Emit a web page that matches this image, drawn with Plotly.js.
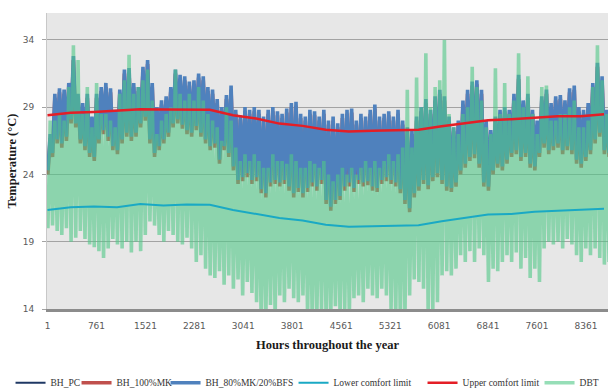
<!DOCTYPE html>
<html>
<head>
<meta charset="utf-8">
<script src="https://cdn.plot.ly/plotly-3.0.1.min.js"></script>
<style>html,body{margin:0;padding:0;background:#fff;}#chart{width:608px;height:389px;}</style>
</head>
<body>
<div id="chart"></div>
<script>
// Hour tick labels
const hourTicks = [1, 761, 1521, 2281, 3041, 3801, 4561, 5321, 6081, 6841, 7601, 8361];
const tempTicks = [14, 19, 24, 29, 34];

// Series names
const seriesNames = ["BH_PC", "BH_100%MK", "BH_80%MK/20%BFS", "Lower comfort limit", "Upper comfort limit", "DBT"];

// Hourly series read as 3-day (72 h) extremes, bin k covers hours 1+72k .. 72+72k
const binHours = 72;

const bh80Max = [27.0,30.0,30.4,30.3,30.8,32.8,30.0,29.3,30.0,28.3,
30.0,30.5,30.8,30.4,28.8,30.3,31.8,31.9,30.8,30.5,
32.0,32.5,30.8,29.0,29.5,29.8,30.5,31.8,31.4,31.3,
30.9,31.0,31.5,31.3,30.5,30.3,29.6,29.0,29.9,30.6,
28.8,28.4,29.0,28.8,29.0,28.8,28.3,28.8,29.0,28.7,
28.5,28.9,29.3,29.4,28.5,28.3,28.8,28.7,28.3,28.8,
28.0,28.3,27.8,28.5,28.8,28.9,28.0,28.5,28.3,28.8,
29.2,28.3,28.5,28.7,28.3,28.8,28.0,27.5,27.3,28.3,
29.0,29.6,28.8,29.8,30.3,29.8,28.3,27.5,28.0,29.5,
30.3,30.9,31.0,30.3,28.0,27.3,28.3,28.8,29.0,28.8,
30.0,31.4,29.5,30.0,28.8,28.0,29.8,30.3,29.3,29.8,
29.9,29.5,30.4,30.6,29.0,28.8,29.3,30.8,32.3,31.3,
28.8,28.3];

const bh80Min = [24.3,25.6,26.6,26.3,26.8,28.1,27.8,26.6,26.1,25.6,
25.3,26.6,27.3,26.8,26.1,25.8,26.6,27.1,26.8,27.1,
27.8,28.3,26.6,25.6,26.1,26.6,27.1,27.8,28.1,27.7,
27.3,27.1,27.6,27.1,26.6,26.1,26.3,25.1,26.1,25.6,
24.6,23.6,23.8,24.1,23.6,23.8,22.9,22.6,23.4,23.6,
23.4,23.6,23.1,22.6,23.0,22.6,23.0,23.4,23.1,23.6,
22.1,21.6,22.1,22.4,23.1,23.4,23.0,23.6,23.4,23.5,
23.1,23.0,23.6,23.8,23.6,23.4,22.9,22.1,21.5,22.6,
23.1,23.6,23.2,23.8,24.1,23.6,23.1,23.0,23.4,24.3,
24.8,25.3,25.5,24.8,23.4,23.1,24.3,24.8,24.6,25.1,
25.6,25.8,25.3,25.6,24.8,24.6,25.6,26.3,25.8,26.1,
26.3,25.8,26.1,25.8,25.1,24.8,25.3,25.8,26.6,27.1,
25.8,25.6];

const bh100Max = [26.7,29.7,30.1,30.0,30.5,32.5,29.7,29.0,29.7,28.0,
29.7,30.2,30.5,30.1,28.5,30.0,31.5,31.6,30.5,30.2,
31.7,32.2,30.5,28.7,29.2,29.5,30.2,31.5,31.1,31.0,
30.6,30.7,31.2,31.0,30.2,30.0,29.3,28.7,29.6,30.3,
28.5,28.1,28.7,28.5,28.7,28.5,28.0,28.5,28.7,28.4,
28.2,28.6,29.0,29.1,28.2,28.0,28.5,28.4,28.0,28.5,
27.7,28.0,27.5,28.2,28.5,28.6,27.7,28.2,28.0,28.5,
28.9,28.0,28.2,28.4,28.0,28.5,27.7,27.2,27.0,28.0,
28.7,29.3,28.5,29.5,30.0,29.5,28.0,27.2,27.7,29.2,
30.0,30.6,30.7,30.0,27.7,27.0,28.0,28.5,28.7,28.5,
29.7,31.1,29.2,29.7,28.5,27.7,29.5,30.0,29.0,29.5,
29.6,29.2,30.1,30.3,28.7,28.5,29.0,30.5,32.0,31.0,
28.5,28.0];

const bh100Min = [24.0,25.3,26.3,26.0,26.5,27.8,27.5,26.3,25.8,25.3,
25.0,26.3,27.0,26.5,25.8,25.5,26.3,26.8,26.5,26.8,
27.5,28.0,26.3,25.3,25.8,26.3,26.8,27.5,27.8,27.4,
27.0,26.8,27.3,26.8,26.3,25.8,26.0,24.8,25.8,25.3,
24.3,23.3,23.5,23.8,23.3,23.5,22.6,22.3,23.1,23.3,
23.1,23.3,22.8,22.3,22.7,22.3,22.7,23.1,22.8,23.3,
21.8,21.3,21.8,22.1,22.8,23.1,22.7,23.3,23.1,23.2,
22.8,22.7,23.3,23.5,23.3,23.1,22.6,21.8,21.2,22.3,
22.8,23.3,22.9,23.5,23.8,23.3,22.8,22.7,23.1,24.0,
24.5,25.0,25.2,24.5,23.1,22.8,24.0,24.5,24.3,24.8,
25.3,25.5,25.0,25.3,24.5,24.3,25.3,26.0,25.5,25.8,
26.0,25.5,25.8,25.5,24.8,24.5,25.0,25.5,26.3,26.8,
25.5,25.3];

const bhPcMax = [26.4,29.4,29.8,29.7,30.2,32.2,29.4,28.7,29.4,27.7,
29.4,29.9,30.2,29.8,28.2,29.7,31.2,31.3,30.2,29.9,
31.4,31.9,30.2,28.4,28.9,29.2,29.9,31.2,30.8,30.7,
30.3,30.4,30.9,30.7,29.9,29.7,29.0,28.4,29.3,30.0,
28.2,27.8,28.4,28.2,28.4,28.2,27.7,28.2,28.4,28.1,
27.9,28.3,28.7,28.8,27.9,27.7,28.2,28.1,27.7,28.2,
27.4,27.7,27.2,27.9,28.2,28.3,27.4,27.9,27.7,28.2,
28.6,27.7,27.9,28.1,27.7,28.2,27.4,26.9,26.7,27.7,
28.4,29.0,28.2,29.2,29.7,29.2,27.7,26.9,27.4,28.9,
29.7,30.3,30.4,29.7,27.4,26.7,27.7,28.2,28.4,28.2,
29.4,30.8,28.9,29.4,28.2,27.4,29.2,29.7,28.7,29.2,
29.3,28.9,29.8,30.0,28.4,28.2,28.7,30.2,31.7,30.7,
28.2,27.7];

const bhPcMin = [24.6,25.9,26.9,26.6,27.1,28.4,28.1,26.9,26.4,25.9,
25.6,26.9,27.6,27.1,26.4,26.1,26.9,27.4,27.1,27.4,
28.1,28.6,26.9,25.9,26.4,26.9,27.4,28.1,28.4,28.0,
27.6,27.4,27.9,27.4,26.9,26.4,26.6,25.4,26.4,25.9,
24.9,23.9,24.1,24.4,23.9,24.1,23.2,22.9,23.7,23.9,
23.7,23.9,23.4,22.9,23.3,22.9,23.3,23.7,23.4,23.9,
22.4,21.9,22.4,22.7,23.4,23.7,23.3,23.9,23.7,23.8,
23.4,23.3,23.9,24.1,23.9,23.7,23.2,22.4,21.8,22.9,
23.4,23.9,23.5,24.1,24.4,23.9,23.4,23.3,23.7,24.6,
25.1,25.6,25.8,25.1,23.7,23.4,24.6,25.1,24.9,25.4,
25.9,26.1,25.6,25.9,25.1,24.9,25.9,26.6,26.1,26.4,
26.6,26.1,26.4,26.1,25.4,25.1,25.6,26.1,26.9,27.4,
26.1,25.9];

const dbtMax = [28.0,28.0,28.5,28.0,30.5,33.6,32.5,28.5,30.5,27.5,
30.8,28.5,28.5,28.0,27.5,30.0,31.0,32.9,30.0,30.5,
31.0,31.8,29.5,27.0,28.0,28.5,29.0,31.8,30.0,29.5,
30.0,29.5,30.5,29.5,28.5,28.0,27.5,26.5,29.0,28.0,
26.0,25.0,25.5,25.0,25.5,25.0,24.5,24.5,25.5,25.0,
25.0,24.8,25.5,25.0,24.5,24.5,25.0,24.8,24.5,25.0,
24.0,23.5,24.0,24.5,24.0,24.5,24.0,24.5,25.0,24.5,
25.0,24.5,25.0,25.5,25.0,25.5,26.0,30.3,26.0,31.2,
29.0,33.0,29.0,30.5,31.0,34.0,28.5,27.5,27.0,28.5,
29.0,32.0,30.5,29.5,27.5,27.0,31.9,28.5,30.8,28.5,
29.5,33.0,29.0,31.3,28.5,27.0,30.5,30.6,28.0,28.0,
28.5,28.5,29.0,29.5,27.5,27.5,28.0,30.5,33.6,31.0,
28.5,28.0];

const dbtMin = [20.0,20.2,19.8,19.5,20.0,19.0,19.3,19.8,19.2,18.8,
18.6,18.3,17.8,18.5,19.2,18.8,18.5,19.0,18.2,19.0,
18.3,19.5,20.5,20.2,19.5,19.0,19.8,19.5,19.0,18.8,
19.3,18.5,17.5,18.0,17.0,16.5,16.3,16.8,15.8,16.5,
15.5,16.2,15.0,16.0,15.2,14.5,13.0,13.5,14.3,13.5,
15.0,14.5,15.5,14.8,14.5,15.0,13.5,13.0,13.5,14.0,
13.0,13.5,14.2,13.5,14.0,13.5,14.8,15.0,14.5,15.5,
15.0,14.8,15.5,15.0,14.0,13.5,13.0,13.5,15.0,16.2,
16.0,15.5,13.5,14.0,14.5,16.5,16.8,16.5,17.0,18.0,
17.5,18.3,17.5,18.5,18.0,16.0,17.0,16.8,17.5,18.0,
17.5,18.2,17.0,17.8,16.3,17.0,16.0,18.5,19.0,18.8,
19.0,18.5,19.2,18.8,18.0,17.5,18.5,18.0,18.5,17.8,
17.3,17.5];

// Comfort limits sampled every 360 h (hour 1 + 360*i)
const limitStep = 360;
const upperLimit = [28.40,28.58,28.65,28.73,28.85,28.83,28.83,28.80,28.40,28.16,
27.78,27.61,27.33,27.19,27.24,27.28,27.33,27.58,27.78,28.03,
28.11,28.23,28.33,28.33,28.48];
const lowerLimit = [21.36,21.56,21.61,21.56,21.81,21.69,21.76,21.74,21.36,21.07,
20.77,20.57,20.27,20.12,20.17,20.20,20.22,20.52,20.77,21.02,
21.07,21.22,21.31,21.36,21.46];

function zigzag(minArr, maxArr) {
  const x = [], y = [];
  for (let k = 0; k < minArr.length; k++) {
    const h0 = 1 + binHours * k;
    x.push(h0 + 6);  y.push(minArr[k]);
    x.push(h0 + 42); y.push(maxArr[k]);
  }
  return {x, y};
}
function stepped(arr) {
  return arr.map((_, i) => 1 + limitStep * i);
}

const pc = zigzag(bhPcMin, bhPcMax);
const mk = zigzag(bh100Min, bh100Max);
const bfs = zigzag(bh80Min, bh80Max);
const dbt = zigzag(dbtMin, dbtMax);

const bandW = 3.6;
const traces = [
  {x: pc.x, y: pc.y, name: seriesNames[0], mode: 'lines', line: {color: '#1f3864', width: 2}, legendrank: 1, legendwidth: 21},
  {x: mk.x, y: mk.y, name: seriesNames[1], mode: 'lines', line: {color: '#c0504d', width: bandW}, legendrank: 2, legendwidth: 44},
  {x: bfs.x, y: bfs.y, name: seriesNames[2], mode: 'lines', line: {color: '#4f81bd', width: bandW}, legendrank: 3, legendwidth: 83},
  {x: dbt.x, y: dbt.y, name: seriesNames[5], mode: 'lines', line: {color: 'rgb(80,200,135)', width: bandW}, opacity: 0.6, legendrank: 6, legendwidth: 15},
  {x: stepped(lowerLimit), y: lowerLimit, name: seriesNames[3], mode: 'lines', line: {color: '#1aa9c4', width: 2}, legendrank: 4, legendwidth: 84},
  {x: stepped(upperLimit), y: upperLimit, name: seriesNames[4], mode: 'lines', line: {color: '#e41e26', width: 2.5}, legendrank: 5, legendwidth: 72}
];

const tickFont = {family: 'DejaVu Sans, Liberation Sans, sans-serif', size: 9, color: '#595959'};
const layout = {
  width: 608, height: 389,
  margin: {l: 47, r: 0, t: 13, b: 80, autoexpand: false},
  paper_bgcolor: '#ffffff',
  plot_bgcolor: '#e7e7e7',
  showlegend: true,
  xaxis: {
    range: [-7, 8703], automargin: false,
    tickmode: 'array', tickvals: hourTicks, ticktext: hourTicks.map(String),
    showgrid: false, zeroline: false,
    showline: true, linecolor: '#8c8c8c', linewidth: 3,
    ticks: '', ticklabelstandoff: 6,
    tickfont: tickFont,
    title: {text: 'Hours throughout the year', font: {family: 'Liberation Serif, serif', size: 12.5, color: '#1a1a1a', weight: 'bold'}, standoff: 11},
    fixedrange: true
  },
  yaxis: {
    range: [14, 36], automargin: false,
    tickmode: 'array', tickvals: tempTicks, ticktext: tempTicks.map(String),
    showgrid: true, gridcolor: '#a3a3a3', gridwidth: 1, zeroline: false,
    showline: true, linecolor: '#c8c8c8', linewidth: 1,
    ticks: 'outside', ticklen: 4, tickcolor: '#a3a3a3', ticklabelstandoff: 6,
    tickfont: tickFont,
    title: {text: 'Temperature (°C)', font: {family: 'Liberation Serif, serif', size: 12.5, color: '#1a1a1a', weight: 'bold'}, standoff: 3},
    fixedrange: true
  },
  legend: {
    orientation: 'h', x: -0.065, xanchor: 'left', y: -0.2, yanchor: 'top',
    font: {family: 'Liberation Serif, serif', size: 9.5, color: '#333333'},
    bgcolor: 'rgba(0,0,0,0)', traceorder: 'normal'
  }
};

Plotly.newPlot('chart', traces, layout, {displayModeBar: false, staticPlot: true});
</script>
</body>
</html>
